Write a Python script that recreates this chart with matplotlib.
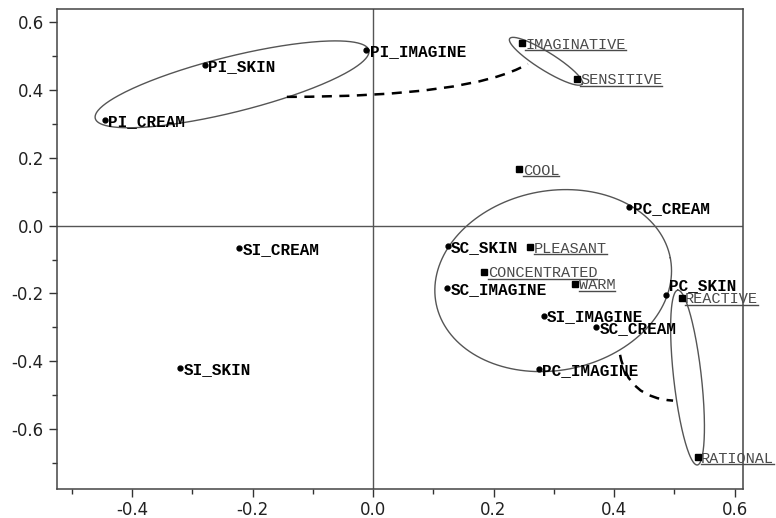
import matplotlib
matplotlib.use("Agg")
import matplotlib.pyplot as plt
import numpy as np
from matplotlib.lines import Line2D
from matplotlib.patches import PathPatch
from matplotlib.path import Path
from matplotlib.ticker import MultipleLocator

plt.rcParams["axes.unicode_minus"] = False

# Product scores (dots)
products = ["PI_SKIN", "PI_CREAM", "PI_IMAGINE", "SI_CREAM", "SI_SKIN", "PC_CREAM",
            "SC_SKIN", "SC_IMAGINE", "PC_SKIN", "SI_IMAGINE", "SC_CREAM", "PC_IMAGINE"]
prod_x = [-0.279, -0.445, -0.011, -0.222, -0.320, 0.425,
          0.124, 0.123, 0.487, 0.283, 0.370, 0.275]
prod_y = [0.474, 0.312, 0.518, -0.067, -0.421, 0.054,
          -0.059, -0.184, -0.203, -0.265, -0.300, -0.424]

# Attribute scores (squares)
attributes = ["IMAGINATIVE", "SENSITIVE", "COOL", "PLEASANT", "CONCENTRATED",
              "WARM", "REACTIVE", "RATIONAL"]
attr_x = [0.247, 0.338, 0.243, 0.261, 0.185, 0.336, 0.512, 0.539]
attr_y = [0.538, 0.433, 0.167, -0.064, -0.136, -0.171, -0.213, -0.683]

# Group outlines: centre x, centre y, semi-axes (x units), angle on screen (deg)
groups = [
    (-0.234, 0.417, 0.234, 0.046, 14.0),
    (0.287, 0.485, 0.071, 0.015, -32.0),
    (0.299, -0.162, 0.198, 0.149, 11.0),
    (0.522, -0.448, 0.146, 0.023, 96.4),
]

# Dashed links between groups: start, control, end
links = [
    [(-0.143, 0.380), (0.161, 0.380), (0.257, 0.477)],
    [(0.410, -0.381), (0.423, -0.508), (0.498, -0.516)],
]

XLIM = (-0.5245, 0.6141)
YLIM = (-0.7767, 0.6378)

fig = plt.figure(figsize=(7.76, 5.18), dpi=100)
ax = fig.add_axes([0.0735, 0.056, 0.884, 0.9257])
ax.set_xlim(*XLIM)
ax.set_ylim(*YLIM)

ax.axhline(0, color="#555555", lw=1.0, zorder=1)
ax.axvline(0, color="#555555", lw=1.0, zorder=1)

# screen aspect (y pixels per unit / x pixels per unit)
W, H = fig.get_size_inches() * fig.dpi
pos = ax.get_position()
k = (pos.height * H / (YLIM[1] - YLIM[0])) / (pos.width * W / (XLIM[1] - XLIM[0]))

t = np.linspace(0, 2 * np.pi, 300)
for cx, cy, a, b, ang in groups:
    th = np.radians(ang)
    dx = a * np.cos(t) * np.cos(th) - b * np.sin(t) * np.sin(th)
    dy = a * np.cos(t) * np.sin(th) + b * np.sin(t) * np.cos(th)
    ax.plot(cx + dx, cy + dy / k, color="#555555", lw=1.0, zorder=2)

for pts in links:
    path = Path(pts, [Path.MOVETO, Path.CURVE3, Path.CURVE3])
    ax.add_patch(PathPatch(path, fill=False, color="black", lw=1.8,
                           linestyle=(0, (4, 3)), zorder=2))

ax.plot(prod_x, prod_y, "o", color="black", ms=3.5, zorder=3)
ax.plot(attr_x, attr_y, "s", color="black", ms=3.8, zorder=3)

for name, x, y in zip(products, prod_x, prod_y):
    off = (2, 7.2) if name == "PC_SKIN" else (2.5, 0)
    ax.annotate(name, (x, y), xytext=off, textcoords="offset points",
                ha="left", va="center_baseline", fontsize=11.5,
                family="Liberation Mono", weight="bold", color="black", zorder=4)

attr_texts = []
for name, x, y in zip(attributes, attr_x, attr_y):
    txt = ax.annotate(name, (x, y), xytext=(2.5, 0), textcoords="offset points",
                      ha="left", va="center_baseline", fontsize=11,
                      family="Liberation Mono", color="#4a4a4a", zorder=4,
                      annotation_clip=False)
    attr_texts.append(txt)

ax.xaxis.set_major_locator(MultipleLocator(0.2))
ax.xaxis.set_minor_locator(MultipleLocator(0.1))
ax.yaxis.set_major_locator(MultipleLocator(0.2))
ax.yaxis.set_minor_locator(MultipleLocator(0.1))
ax.tick_params(which="major", direction="out", length=6, width=1, pad=3.5,
               labelsize=12, colors="#333333", labelcolor="#222222")
ax.tick_params(which="minor", direction="out", length=3.5, width=1, colors="#333333")
ax.tick_params(axis="x", which="major", pad=2.5)
for sp in ax.spines.values():
    sp.set_color("#444444")
    sp.set_linewidth(1.1)

# underline the attribute names
fig.canvas.draw()
renderer = fig.canvas.get_renderer()
inv = fig.transFigure.inverted()
for txt in attr_texts:
    bb = txt.get_window_extent(renderer)
    (x0, y0), (x1, _) = inv.transform([(bb.x0, bb.y0 + 1.5), (bb.x1, bb.y0 + 1.5)])
    fig.add_artist(Line2D([x0, x1], [y0, y0], transform=fig.transFigure,
                          color="#4a4a4a", lw=1.0))

fig.savefig("out.png", dpi=100)
